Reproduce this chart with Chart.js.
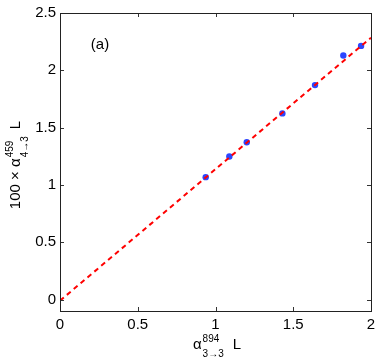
<!DOCTYPE html>
<html><head><meta charset="utf-8">
<script src="https://cdn.jsdelivr.net/npm/chart.js@4/dist/chart.umd.min.js"></script>
<style>html,body{margin:0;padding:0;background:#fff}</style>
</head><body>
<canvas id="c" width="382" height="361"></canvas>
<script>
// measured points
const xVals=[0.937,1.089,1.201,1.430,1.640,1.822,1.936];
const yVals=[1.068,1.248,1.372,1.624,1.871,2.129,2.213];
// fitted dashed line endpoints
const fitX=[0,2];
const fitY=[-0.01,2.285];
const xTicks=[0,0.5,1,1.5,2];
const yTicks=[0,0.5,1,1.5,2,2.5];
const xRange=[0,2];
const yRange=[-0.1,2.5];
const panelLabel='(a)';
const panelPos=[0.257,2.22];
const xTitle=[{t:'α'},{sup:'894',sub:'3→3'},{gap:9},{t:'L'}];
const yTitle=[{t:'100 × α'},{sup:'459',sub:'4→3'},{gap:7},{t:'L'}];

const FONT="'Liberation Sans', Arial, Helvetica, sans-serif";
const MAIN='15px '+FONT, SCR='10px '+FONT;

function partW(ctx,p){
  if(p.gap!==undefined) return p.gap;
  if(p.t!==undefined){ctx.font=MAIN;return ctx.measureText(p.t).width;}
  ctx.font=SCR;return Math.max(ctx.measureText(p.sup).width,ctx.measureText(p.sub).width)+1;
}
function drawParts(ctx,parts,cx,base,supOff,subOff){
  let w=0;for(const p of parts)w+=partW(ctx,p);
  let x=cx-w/2;
  ctx.textAlign='left';ctx.textBaseline='alphabetic';ctx.fillStyle='#000';
  for(const p of parts){
    const pw=partW(ctx,p);
    if(p.t!==undefined){ctx.font=MAIN;ctx.fillText(p.t,x,base);}
    else if(p.sup!==undefined){ctx.font=SCR;ctx.fillText(p.sup,x+1,base+supOff);ctx.fillText(p.sub,x+1,base+subOff);}
    x+=pw;
  }
}

const decor={
  id:'decor',
  afterDatasetsDraw(chart){
    const ctx=chart.ctx,a=chart.chartArea,xs=chart.scales.x,ys=chart.scales.y;
    ctx.save();
    ctx.strokeStyle='#333';ctx.lineWidth=1;ctx.beginPath();
    for(const v of xTicks){const px=Math.round(xs.getPixelForValue(v))+0.5;
      ctx.moveTo(px,a.bottom);ctx.lineTo(px,a.bottom-4);ctx.moveTo(px,a.top);ctx.lineTo(px,a.top+4);}
    for(const v of yTicks){const py=Math.round(ys.getPixelForValue(v))+0.5;
      ctx.moveTo(a.left,py);ctx.lineTo(a.left+4,py);ctx.moveTo(a.right,py);ctx.lineTo(a.right-4,py);}
    ctx.stroke();
    ctx.strokeStyle='#222';ctx.lineWidth=1;
    ctx.strokeRect(Math.round(a.left)+0.5,Math.round(a.top)+0.5,Math.round(a.right-a.left),Math.round(a.bottom-a.top));
    ctx.fillStyle='#000';ctx.font=MAIN;ctx.textAlign='center';ctx.textBaseline='middle';
    ctx.fillText(panelLabel,xs.getPixelForValue(panelPos[0]),ys.getPixelForValue(panelPos[1]));
    drawParts(ctx,xTitle,217,349,-7,8);
    ctx.translate(20,165);ctx.rotate(-Math.PI/2);
    drawParts(ctx,yTitle,0,0,-7,8);
    ctx.restore();
  }
};

new Chart(document.getElementById('c'),{
  type:'scatter',
  data:{datasets:[
    {type:'line',data:fitX.map((x,i)=>({x,y:fitY[i]})),borderColor:'#ff0000',borderWidth:2,borderDash:[5,4],pointRadius:0,fill:false,order:0},
    {data:xVals.map((x,i)=>({x,y:yVals[i]})),backgroundColor:'#2b46ff',borderColor:'#2b46ff',pointRadius:3.2,borderWidth:0,order:1}
  ]},
  options:{
    responsive:false,devicePixelRatio:1,animation:false,
    layout:{padding:{left:0,top:12,right:11,bottom:0}},
    plugins:{legend:{display:false},tooltip:{enabled:false}},
    scales:{
      x:{type:'linear',min:xRange[0],max:xRange[1],
        afterBuildTicks(s){s.ticks=xTicks.map(v=>({value:v}));},
        afterFit(s){s.height=50;},
        grid:{display:false,drawTicks:false},border:{display:false},
        ticks:{color:'#000',font:{family:FONT,size:15},padding:5,maxRotation:0,callback:v=>String(v)}},
      y:{type:'linear',min:yRange[0],max:yRange[1],
        afterBuildTicks(s){s.ticks=yTicks.map(v=>({value:v}));},
        afterFit(s){s.width=60;},
        grid:{display:false,drawTicks:false},border:{display:false},
        ticks:{color:'#000',font:{family:FONT,size:15},padding:4,callback:v=>String(v)}}
    }
  },
  plugins:[decor]
});
</script>
</body></html>
